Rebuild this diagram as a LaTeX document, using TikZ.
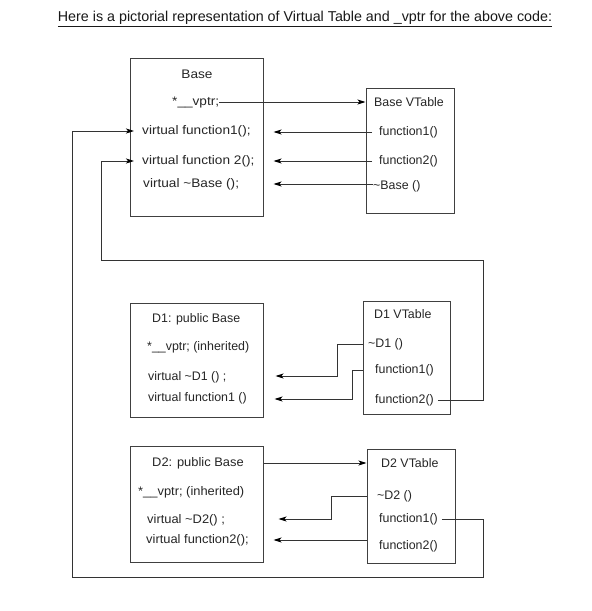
\documentclass[tikz,border=0pt]{standalone}
\usepackage{fontspec}
\setmainfont{Liberation Sans}
\newfontfamily\widefont[FakeStretch=1.1]{Liberation Sans}
\newfontfamily\semiwidefont[FakeStretch=1.04]{Liberation Sans}
\usetikzlibrary{arrows.meta}
\begin{document}
\begin{tikzpicture}[x=1pt,y=-1pt,
  box/.style={draw=black!75, line width=1pt, inner sep=0pt},
  txt/.style={anchor=west, inner sep=0pt, text=black!85, font=\fontsize{12.4}{14}\selectfont, text height=9pt, text depth=2.5pt},
  btxt/.style={txt, font=\widefont\fontsize{12.4}{14}\selectfont},
  dtxt/.style={txt, font=\semiwidefont\fontsize{12.4}{14}\selectfont},
  conn/.style={draw=black!80, line width=0.8pt},
  arr/.style={conn, -{Stealth[length=8pt,width=5pt,inset=2pt,color=black]}},
]
\useasboundingbox[fill=white] (0,0) rectangle (592,611);

% title
\node[inner sep=0pt, font=\fontsize{14.3}{16}\selectfont, text=black!90] (title) at (305,19)
  {\underline{Here is a pictorial representation of Virtual Table and \_vptr for the above code:}};

% boxes
\node[box, minimum width=133pt, minimum height=158pt] (basebox) at (196.5,137) {};
\node[box, minimum width=88pt, minimum height=125pt] (bvt) at (410,150.5) {};
\node[box, minimum width=133pt, minimum height=114pt] (d1box) at (196.5,360) {};
\node[box, minimum width=87pt, minimum height=113pt] (d1vt) at (406.5,357.5) {};
\node[box, minimum width=133pt, minimum height=116pt] (d2box) at (196.5,504) {};
\node[box, minimum width=88pt, minimum height=114pt] (d2vt) at (411,506) {};

% Base box texts
\node[btxt, anchor=center] (baseT) at (197,75) {Base};
\node[btxt] (vptr) at (172,102) {*\_\_vptr;};
\node[btxt] (bf1) at (142,131) {virtual function1();};
\node[btxt] (bf2) at (142,161) {virtual function 2();};
\node[btxt] (bdtor) at (143,184) {virtual \textasciitilde Base ();};

% Base VTable texts
\node[txt] (bvtT) at (374,103) {Base VTable};
\node[txt] (bvf1) at (379,132) {function1()};
\node[txt] (bvf2) at (379,161) {function2()};
\node[txt] (bvdtor) at (373,186) {\textasciitilde Base ()};

% D1 box texts
\node[txt] (d1T) at (152,319) {D1: public Base};
\node[txt] (d1vptr) at (147,347) {*\_\_vptr; (inherited)};
\node[txt] (d1dtor) at (148,377) {virtual \textasciitilde D1 () ;};
\node[txt] (d1f1) at (148,398) {virtual function1 ()};

% D1 VTable texts
\node[txt] (d1vtT) at (374,315) {D1 VTable};
\node[txt] (d1vdtor) at (368,344) {\textasciitilde D1 ()};
\node[txt] (d1vf1) at (375,370) {function1()};
\node[txt] (d1vf2) at (375,400) {function2()};

% D2 box texts
\node[dtxt] (d2T) at (152,463) {D2: public Base};
\node[dtxt] (d2vptr) at (138,492) {*\_\_vptr; (inherited)};
\node[dtxt] (d2dtor) at (147,520) {virtual \textasciitilde D2() ;};
\node[dtxt] (d2f2) at (146,540) {virtual function2();};

% D2 VTable texts
\node[txt] (d2vtT) at (381,464) {D2 VTable};
\node[txt] (d2vdtor) at (377,496) {\textasciitilde D2 ()};
\node[txt] (d2vf1) at (379,519) {function1()};
\node[txt] (d2vf2) at (379,546) {function2()};

% Base connectors
\draw[arr] (vptr.east) -- (vptr.east -| bvt.west);
\draw[arr, shorten >=10pt] ([xshift=-7pt]bvf1.west) -- (bvf1.west -| basebox.east);
\draw[arr, shorten >=10pt] ([xshift=-7pt]bvf2.west) -- (bvf2.west -| basebox.east);
\draw[arr, shorten >=10pt] (bvdtor.west |- bdtor) -- (bdtor -| basebox.east);

% long loops
\coordinate (r1) at (483,577);
\coordinate (l1) at (72,577);
\draw[arr] ([xshift=4pt]d2vf1.east) -| (r1) -- (l1) |- ([xshift=-8pt]bf1.west);
\coordinate (r2) at (483,260);
\coordinate (l2) at (101,260);
\draw[arr] ([xshift=4pt]d1vf2.east) -| (r2) -- (l2) |- ([xshift=-8pt]bf2.west);

% D1 connectors
\coordinate (k1) at (337,376);
\draw[arr, shorten >=12pt] ([xshift=-5pt]d1vdtor.west) -| (k1) -- (k1 -| d1box.east);
\coordinate (k2) at (352,399);
\draw[arr, shorten >=11pt] ([xshift=-12pt]d1vf1.west) -| (k2) -- (k2 -| d1box.east);

% D2 connectors
\draw[arr] (d2box.east |- d2T) -- (d2T -| d2vt.west);
\coordinate (k3) at (331,519);
\draw[arr, shorten >=15pt] ([xshift=-10pt]d2vdtor.west) -| (k3) -- (k3 -| d2box.east);
\draw[arr, shorten >=10pt] (d2vt.west |- d2f2) -- (d2f2 -| d2box.east);
\end{tikzpicture}
\end{document}
